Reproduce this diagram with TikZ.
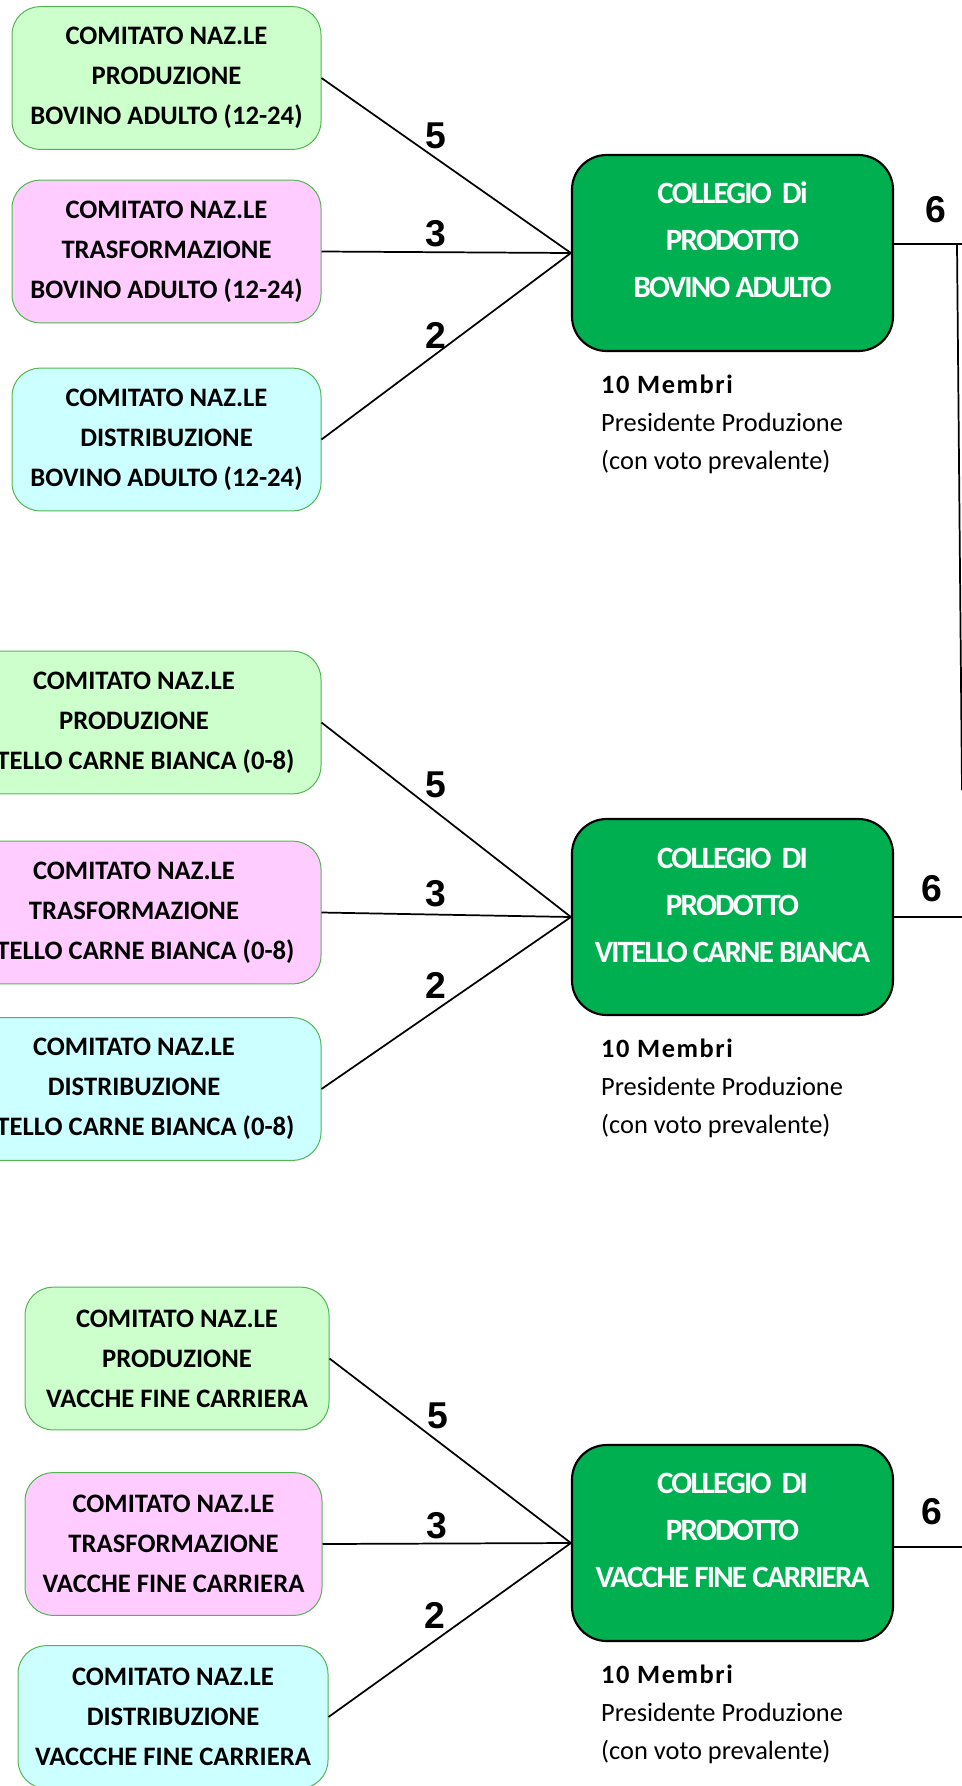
\documentclass[tikz,border=0pt]{standalone}
\usepackage{fontspec}
\setmainfont{Carlito}
\newfontfamily\numfont{Liberation Sans}
\newfontfamily\colfont[LetterSpace=-5.8]{Carlito}
\newfontfamily\membfont[LetterSpace=6]{Carlito}
\usetikzlibrary{positioning}
\definecolor{prodgreen}{RGB}{204,255,204}
\definecolor{trasfpink}{RGB}{255,204,255}
\definecolor{distrcyan}{RGB}{204,255,255}
\definecolor{comborder}{RGB}{84,180,84}
\definecolor{colgreen}{RGB}{0,176,80}
\begin{document}
\begin{tikzpicture}[x=0.75pt,y=0.75pt,yscale=-1,xscale=1,
  comitato/.style={draw=comborder, line width=0.75pt, rounded corners=21pt, align=center, inner sep=0pt, minimum height=107pt, font=\bfseries\fontsize{20}{30}\selectfont},
  collegio/.style={draw=black, fill=colgreen, line width=1.6pt, rounded corners=26pt, minimum width=240.75pt, minimum height=147pt},
  coltext/.style={text=white, align=center, inner sep=0pt, font=\colfont\bfseries\fontsize{23.25}{35.25}\selectfont},
  note/.style={anchor=north west, inner sep=0pt, align=left, font=\fontsize{19.8}{28.5}\selectfont},
  link/.style={line width=1.3pt},
  weight/.style={font=\numfont\bfseries\fontsize{28}{32}\selectfont, inner sep=3pt}]
 \useasboundingbox (0,0) rectangle (961,1786);

 %Shape: Bovino adulto
 \node[comitato, fill=prodgreen, minimum width=231.75pt] (prodBA) at (166.5,78) {COMITATO NAZ.LE\\PRODUZIONE\\BOVINO ADULTO (12-24)};
 \node[comitato, fill=trasfpink, minimum width=231.75pt] (trasfBA) at (166.5,251.5) {COMITATO NAZ.LE\\TRASFORMAZIONE\\BOVINO ADULTO (12-24)};
 \node[comitato, fill=distrcyan, minimum width=231.75pt] (distrBA) at (166.5,439.5) {COMITATO NAZ.LE\\DISTRIBUZIONE\\BOVINO ADULTO (12-24)};
 \node[collegio] (colBA) at (732.5,253) {};
 \node[coltext] (colBAtxt) at (732.5,240) {COLLEGIO\ \ Di\\PRODOTTO\\BOVINO ADULTO};

 %Shape: Vitello carne bianca
 \node[comitato, fill=prodgreen, minimum width=280.5pt] (prodVC) at (134,722.5) {COMITATO NAZ.LE\\PRODUZIONE\\VITELLO CARNE BIANCA (0-8)};
 \node[comitato, fill=trasfpink, minimum width=280.5pt] (trasfVC) at (134,912.5) {COMITATO NAZ.LE\\TRASFORMAZIONE\\VITELLO CARNE BIANCA (0-8)};
 \node[comitato, fill=distrcyan, minimum width=280.5pt] (distrVC) at (134,1089) {COMITATO NAZ.LE\\DISTRIBUZIONE\\VITELLO CARNE BIANCA (0-8)};
 \node[collegio] (colVC) at (732.5,917) {};
 \node[coltext] (colVCtxt) at (732.5,905) {COLLEGIO\ \ DI\\PRODOTTO\\VITELLO CARNE BIANCA};

 %Shape: Vacche fine carriera
 \node[comitato, fill=prodgreen, minimum width=228pt] (prodVF) at (177,1358.5) {COMITATO NAZ.LE\\PRODUZIONE\\VACCHE FINE CARRIERA};
 \node[comitato, fill=trasfpink, minimum width=222.75pt] (trasfVF) at (173.5,1544) {COMITATO NAZ.LE\\TRASFORMAZIONE\\VACCHE FINE CARRIERA};
 \node[comitato, fill=distrcyan, minimum width=232.5pt] (distrVF) at (173,1717) {COMITATO NAZ.LE\\DISTRIBUZIONE\\VACCCHE FINE CARRIERA};
 \node[collegio] (colVF) at (732.5,1543) {};
 \node[coltext] (colVFtxt) at (732.5,1530) {COLLEGIO\ \ DI\\PRODOTTO\\VACCHE FINE CARRIERA};

 % Text Node
 \node[note] (noteBA) at ([xshift=22.5pt,yshift=17pt]colBA.south west) {{\membfont\bfseries 10 Membri}\\Presidente Produzione\\(con voto prevalente)};
 % Text Node
 \node[note] (noteVC) at ([xshift=22.5pt,yshift=17pt]colVC.south west) {{\membfont\bfseries 10 Membri}\\Presidente Produzione\\(con voto prevalente)};
 % Text Node
 \node[note] (noteVF) at ([xshift=22.5pt,yshift=17pt]colVF.south west) {{\membfont\bfseries 10 Membri}\\Presidente Produzione\\(con voto prevalente)};

 %Straight Lines
 \draw[link] (prodBA.east) -- node[weight, above=3.5pt, pos=0.46] {5} (colBA.west);
 \draw[link] (trasfBA.east) -- node[weight, above=0pt, pos=0.46] {3} (colBA.west);
 \draw[link] (distrBA.east) -- node[weight, above=0.5pt, pos=0.46] {2} (colBA.west);
 \draw[link] (prodVC.east) -- node[weight, above=7pt, pos=0.46] {5} (colVC.west);
 \draw[link] (trasfVC.east) -- node[weight, above=2pt, pos=0.46] {3} (colVC.west);
 \draw[link] (distrVC.east) -- node[weight, above=5pt, pos=0.46] {2} (colVC.west);
 \draw[link] (prodVF.east) -- node[weight, above=6pt, pos=0.45] {5} (colVF.west);
 \draw[link] (trasfVF.east) -- node[weight, above=0pt, pos=0.46] {3} (colVF.west);
 \draw[link] (distrVF.east) -- node[weight, above=5pt, pos=0.44] {2} (colVF.west);

 %Straight Lines: uscite
 \coordinate (busTop) at (957,244);
 \coordinate (busRight) at (962,244);
 \coordinate (busEnd) at (962,790);
 \coordinate (outVC) at (962,916);
 \coordinate (outVF) at (962,1547);
 \draw[link] (colBA.east |- busTop) -- node[weight, above=12.5pt, pos=0.62] {6} (busRight);
 \draw[link] (busTop) -- (busEnd);
 \draw[link] (colVC.east) -- node[weight, above=8pt, pos=0.56] {6} (colVC.east -| outVC);
 \draw[link] (colVF.east |- outVF) -- node[weight, above=13pt, pos=0.56] {6} (outVF);

\end{tikzpicture}
\end{document}
